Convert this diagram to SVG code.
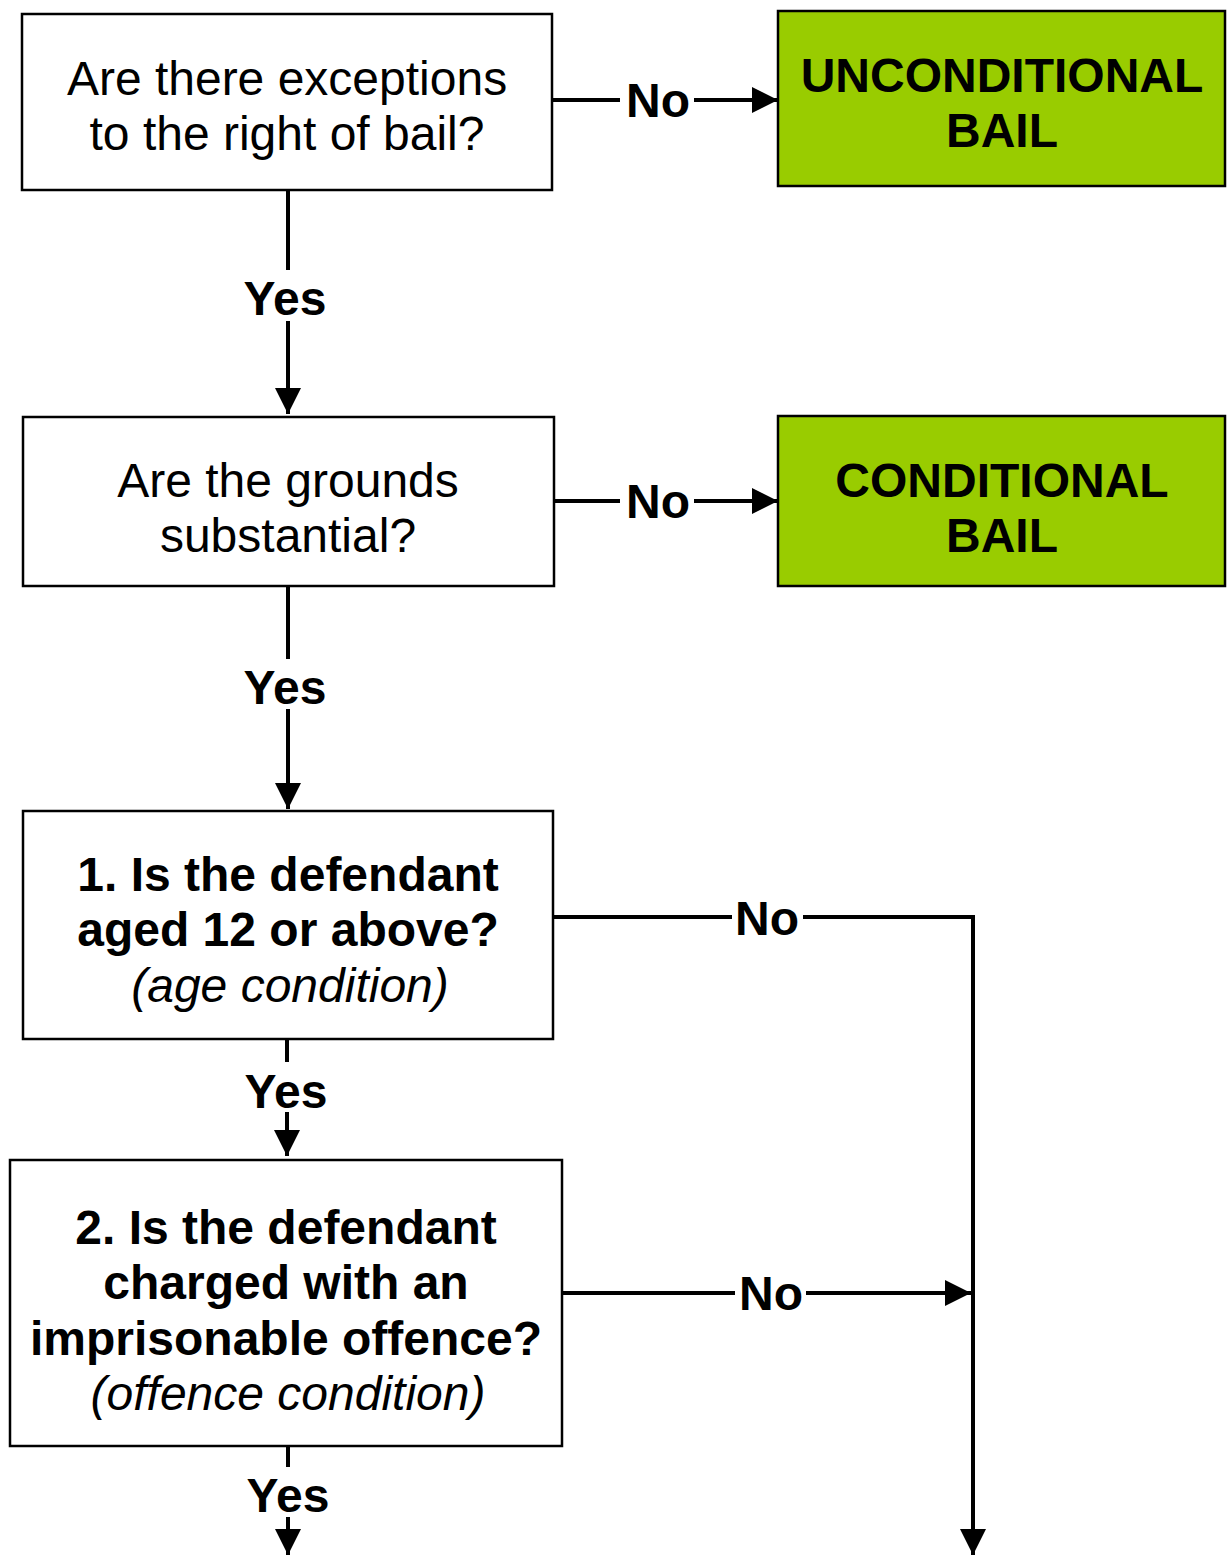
<svg xmlns="http://www.w3.org/2000/svg" width="1229" height="1556" viewBox="0 0 1229 1556">
<style>
.box{fill:#fff;stroke:#000;stroke-width:2.5}
.green{fill:#99CC00;stroke:#000;stroke-width:2.5}
.t{font-family:"Liberation Sans",Arial,sans-serif;font-size:48px;fill:#000;text-anchor:middle}
.b{font-weight:bold}
.i{font-style:italic}
.ln{fill:none;stroke:#000;stroke-width:4}
.lbl{font-family:"Liberation Sans",Arial,sans-serif;font-size:48px;font-weight:bold;fill:#000;text-anchor:middle}
</style>
<defs>
<marker id="ah" markerUnits="userSpaceOnUse" markerWidth="26" markerHeight="26" refX="26" refY="13" orient="auto" viewBox="0 0 26 26">
<path d="M0,0 L26,13 L0,26 Z" fill="#000"/>
</marker>
</defs>
<g id="connectors">
<line class="ln" x1="552" y1="100" x2="620" y2="100"/>
<line class="ln" x1="694" y1="100" x2="778" y2="100" marker-end="url(#ah)"/>
<text class="lbl" x="658" y="117">No</text>
<line class="ln" x1="288" y1="190" x2="288" y2="270"/>
<line class="ln" x1="288" y1="321" x2="288" y2="414" marker-end="url(#ah)"/>
<text class="lbl" x="285" y="315">Yes</text>
<line class="ln" x1="554" y1="501" x2="620" y2="501"/>
<line class="ln" x1="694" y1="501" x2="778" y2="501" marker-end="url(#ah)"/>
<text class="lbl" x="658" y="518">No</text>
<line class="ln" x1="288" y1="586" x2="288" y2="659"/>
<line class="ln" x1="288" y1="709" x2="288" y2="809" marker-end="url(#ah)"/>
<text class="lbl" x="285" y="704">Yes</text>
<line class="ln" x1="553" y1="917" x2="732" y2="917"/>
<polyline class="ln" points="803,917 973,917 973,1555" marker-end="url(#ah)"/>
<text class="lbl" x="767" y="935">No</text>
<line class="ln" x1="287" y1="1039" x2="287" y2="1062"/>
<line class="ln" x1="287" y1="1112" x2="287" y2="1156" marker-end="url(#ah)"/>
<text class="lbl" x="286" y="1108">Yes</text>
<line class="ln" x1="562" y1="1293" x2="735" y2="1293"/>
<line class="ln" x1="806" y1="1293" x2="971" y2="1293" marker-end="url(#ah)"/>
<text class="lbl" x="771" y="1310">No</text>
<line class="ln" x1="288" y1="1446" x2="288" y2="1467"/>
<line class="ln" x1="288" y1="1517" x2="288" y2="1555" marker-end="url(#ah)"/>
<text class="lbl" x="288" y="1512">Yes</text>
</g>
<g id="q1">
<rect class="box" x="22" y="14" width="530" height="176"/>
<text class="t" x="287" y="95">Are there exceptions</text>
<text class="t" x="287" y="150">to the right of bail?</text>
</g>
<g id="unconditional">
<rect class="green" x="778" y="11" width="447" height="175"/>
<text class="t b" x="1002" y="92">UNCONDITIONAL</text>
<text class="t b" x="1002" y="147">BAIL</text>
</g>
<g id="q2">
<rect class="box" x="23" y="417" width="531" height="169"/>
<text class="t" x="288" y="497">Are the grounds</text>
<text class="t" x="288" y="552">substantial?</text>
</g>
<g id="conditional">
<rect class="green" x="778" y="416" width="447" height="170"/>
<text class="t b" x="1002" y="497">CONDITIONAL</text>
<text class="t b" x="1002" y="552">BAIL</text>
</g>
<g id="q3">
<rect class="box" x="23" y="811" width="530" height="228"/>
<text class="t b" x="288" y="891">1. Is the defendant</text>
<text class="t b" x="288" y="946">aged 12 or above?</text>
<text class="t i" x="290" y="1002">(age condition)</text>
</g>
<g id="q4">
<rect class="box" x="10" y="1160" width="552" height="286"/>
<text class="t b" x="286" y="1244">2. Is the defendant</text>
<text class="t b" x="286" y="1299">charged with an</text>
<text class="t b" x="286" y="1355">imprisonable offence?</text>
<text class="t i" x="288" y="1410">(offence condition)</text>
</g>
</svg>
